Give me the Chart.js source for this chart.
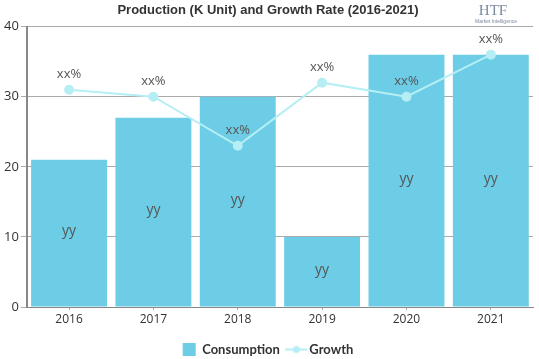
<!DOCTYPE html>
<html><head><meta charset="utf-8">
<script src="https://cdn.jsdelivr.net/npm/chart.js@4/dist/chart.umd.min.js"></script>
<style>html,body{margin:0;padding:0;background:#fff}#w{width:539px;height:359px}</style>
</head><body><div id="w"><canvas id="c"></canvas></div>
<script>
const years = ['2016','2017','2018','2019','2020','2021'];
const consumption = [21, 27, 30, 10, 36, 36];
const growth = [31, 30, 23, 32, 30, 36];
const barLabels = ['yy','yy','yy','yy','yy','yy'];
const lineLabels = ['xx%','xx%','xx%','xx%','xx%','xx%'];
const yTicks = [0, 10, 20, 30, 40];

const barColor = '#6dcde6';
const lineColor = '#b5eef5';

const legendIcon = document.createElement('canvas');
legendIcon.width = 22; legendIcon.height = 10;
(function(){const g=legendIcon.getContext('2d');g.strokeStyle=lineColor;g.lineWidth=2;g.beginPath();g.moveTo(0,5);g.lineTo(22,5);g.stroke();g.fillStyle=lineColor;g.beginPath();g.arc(11,5,3.5,0,Math.PI*2);g.fill();})();

const labelPlugin = {
  id: 'vals',
  afterDatasetsDraw(chart) {
    const ctx = chart.ctx;
    ctx.save();
    ctx.font = '14px "Open Sans", sans-serif';
    ctx.fillStyle = '#555';
    ctx.textAlign = 'center';
    ctx.textBaseline = 'middle';
    const bm = chart.getDatasetMeta(0);
    bm.data.forEach((el, i) => {
      const mid = (el.y + el.base) / 2;
      ctx.fillText(barLabels[i], el.x, mid - 2);
    });
    ctx.font = '13px "Open Sans", sans-serif';
    const lm = chart.getDatasetMeta(1);
    lm.data.forEach((el, i) => {
      ctx.fillText(lineLabels[i], el.x, el.y - 15);
    });
    ctx.textAlign = 'center';
    ctx.fillStyle = '#7a8aa0';
    ctx.font = '15px "Liberation Serif", serif';
    ctx.fillText('HTF', 493, 11);
    ctx.font = '5px "Liberation Sans", sans-serif';
    ctx.fillText('Market Intelligence', 496, 22);
    ctx.restore();
  }
};

new Chart(document.getElementById('c'), {
  data: {
    labels: years,
    datasets: [
      { type: 'bar', label: 'Consumption', data: consumption, backgroundColor: barColor,
        barPercentage: 0.9, categoryPercentage: 1.0, order: 2 },
      { type: 'line', label: 'Growth', data: growth, borderColor: lineColor, backgroundColor: lineColor,
        borderWidth: 2, pointRadius: 4, pointHoverRadius: 4, tension: 0, order: 1 }
    ]
  },
  options: {
    responsive: true, maintainAspectRatio: false, animation: false,
    layout: { padding: { left: 2, right: 5, top: 0, bottom: -7 } },
    plugins: {
      title: { display: true, text: 'Production (K Unit) and Growth Rate (2016-2021)',
        font: { family: '"Liberation Sans Narrow", sans-serif', size: 13, weight: 'bold' }, color: '#333',
        padding: { top: 3, bottom: 8 } },
      legend: { position: 'bottom',
        labels: { usePointStyle: true, font: { family: 'Lato, sans-serif', size: 13, weight: 'bold' }, color: '#333', padding: 10,
          sort: (a, b) => a.datasetIndex - b.datasetIndex,
          generateLabels(chart) {
            const d = Chart.defaults.plugins.legend.labels.generateLabels(chart);
            d.forEach(it => {
              if (it.datasetIndex === 0) { it.pointStyle = 'rect'; it.fillStyle = barColor; it.strokeStyle = barColor; it.lineWidth = 0; }
              else { it.pointStyle = legendIcon; }
            });
            return d;
          } } },
      tooltip: { enabled: false }
    },
    scales: {
      x: { offset: true, grid: { display: true, drawOnChartArea: false, drawTicks: true, tickLength: 3, offset: false, color: '#aaa' },
        border: { display: true, color: '#888', width: 1 },
        ticks: { color: '#333', font: { family: '"Open Sans", sans-serif', size: 12 }, padding: 2 },
        afterFit(s) { s.height = 26; } },
      y: { min: 0, max: 40, afterBuildTicks(s){ s.ticks = yTicks.map(v=>({value:v})); },
        grid: { color: '#aaa', lineWidth: 1, tickLength: 6 }, border: { display: true, color: '#888', width: 2 },
        ticks: { color: '#333', font: { family: '"Open Sans", sans-serif', size: 13 }, padding: 2 } }
    }
  },
  plugins: [labelPlugin]
});
</script>
</body></html>
